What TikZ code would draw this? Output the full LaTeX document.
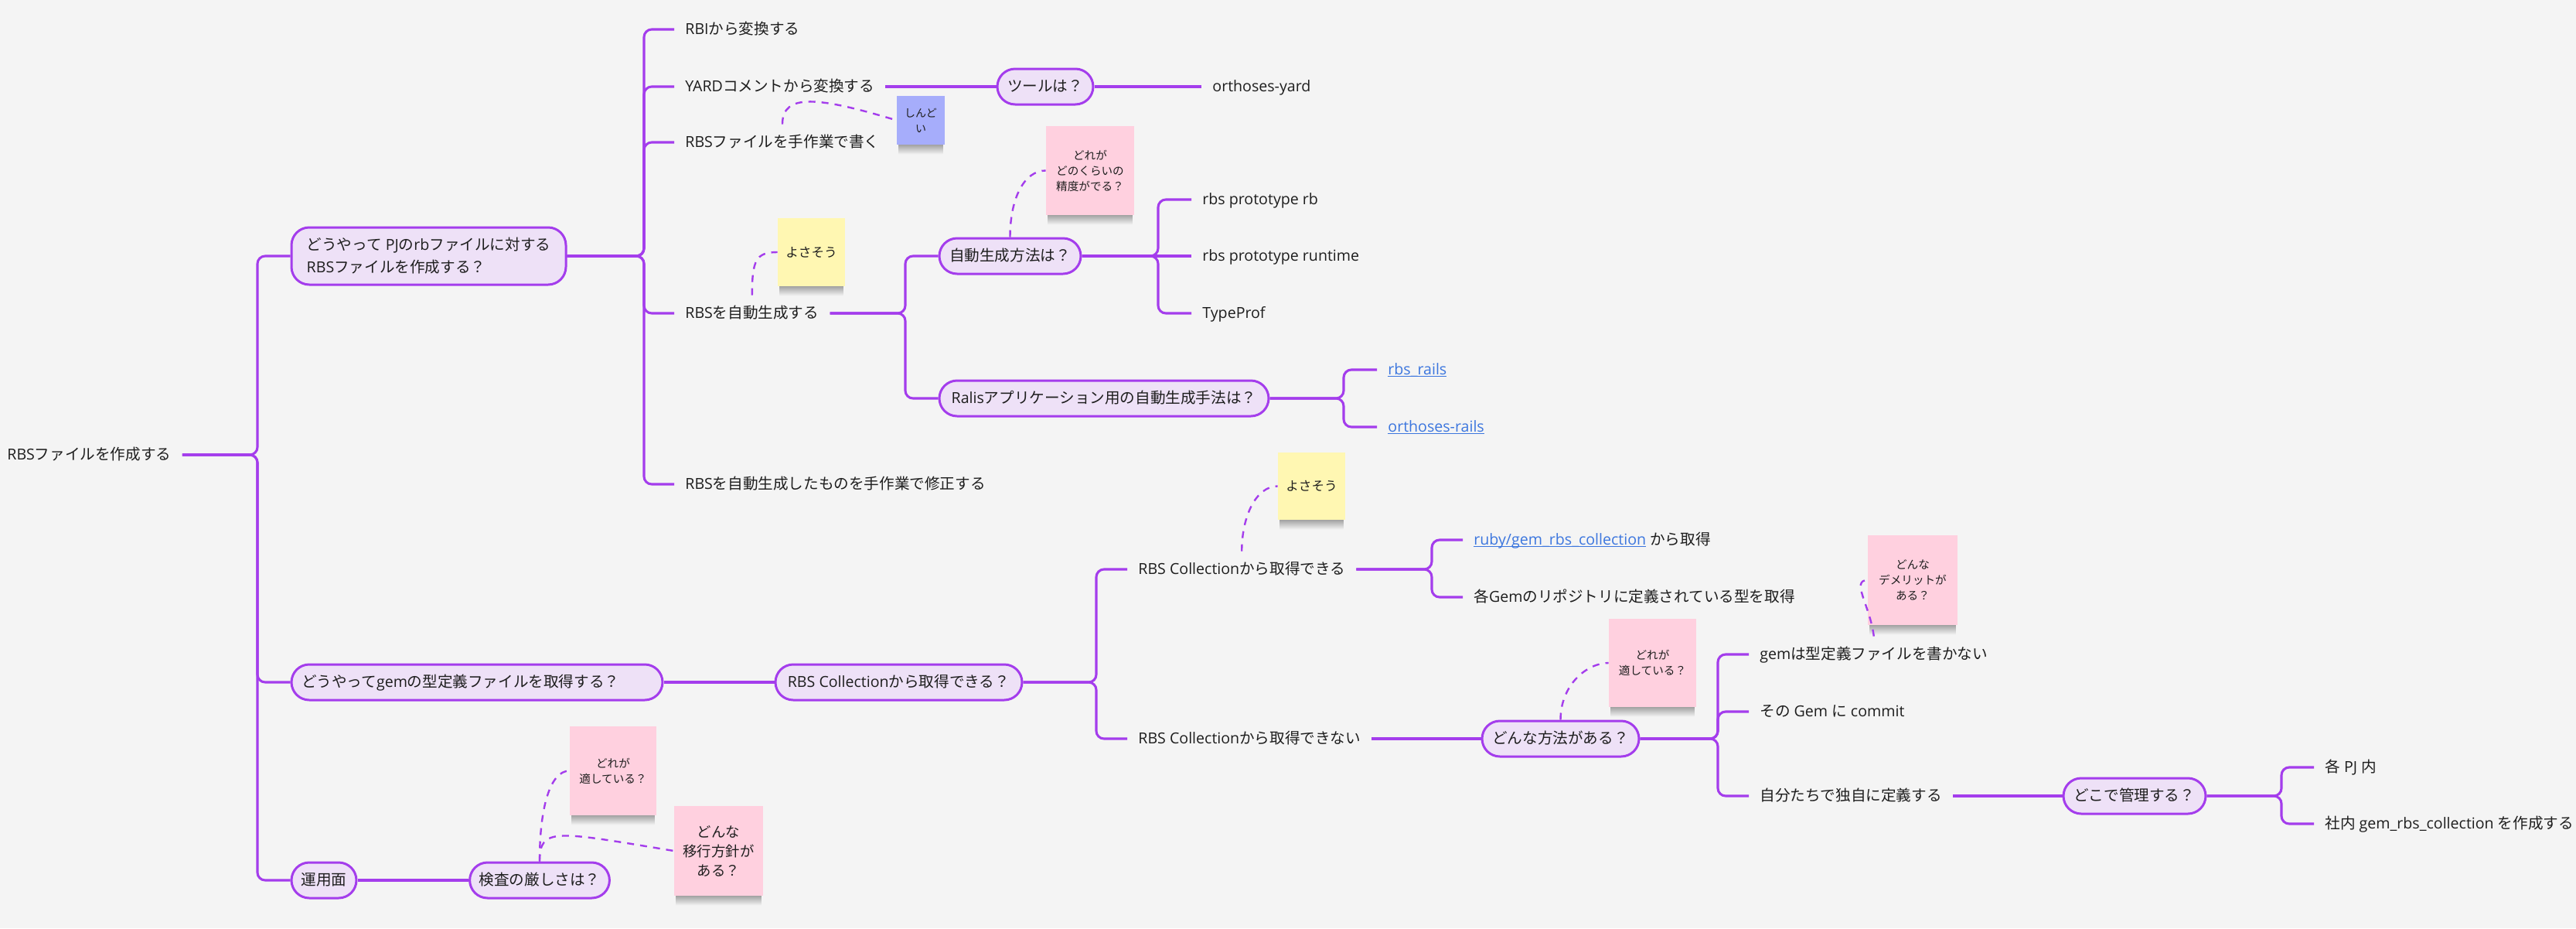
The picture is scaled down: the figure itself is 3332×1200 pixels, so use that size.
\documentclass[tikz,border=0pt]{standalone}
\usepackage{fontspec}
\setmainfont{Open Sans}
\newfontfamily\cjkf{Noto Sans CJK JP}
\newfontfamily\latf{Open Sans}
\XeTeXinterchartokenstate=1
\newXeTeXintercharclass\cjkcls
\newcount\mycjkcnt
\mycjkcnt="3000 \loop\XeTeXcharclass\mycjkcnt=\cjkcls\advance\mycjkcnt by 1 \ifnum\mycjkcnt<"3100 \repeat
\mycjkcnt="4E00 \loop\XeTeXcharclass\mycjkcnt=\cjkcls\advance\mycjkcnt by 1 \ifnum\mycjkcnt<"A000 \repeat
\mycjkcnt="FF00 \loop\XeTeXcharclass\mycjkcnt=\cjkcls\advance\mycjkcnt by 1 \ifnum\mycjkcnt<"FFF0 \repeat
\XeTeXinterchartoks 0 \cjkcls = {\cjkf}
\XeTeXinterchartoks 4095 \cjkcls = {\cjkf}
\XeTeXinterchartoks \cjkcls 0 = {\latf}
\XeTeXinterchartoks \cjkcls 4095 = {\latf}

\definecolor{bgc}{RGB}{244,244,244}
\definecolor{mmp}{RGB}{164,61,236}
\definecolor{mmfill}{RGB}{238,225,247}
\definecolor{txt}{RGB}{30,30,30}
\definecolor{lnkc}{RGB}{60,118,222}
\definecolor{stB}{RGB}{166,173,251}
\definecolor{stY}{RGB}{255,247,178}
\definecolor{stP}{RGB}{255,208,223}

\newcommand\mainsz{\fontsize{9.8pt}{14.5pt}\selectfont}
\newcommand\smsz{\fontsize{7.3pt}{10pt}\selectfont}
\newsavebox\lnkbox
\newcommand\lnk[1]{\sbox\lnkbox{\color{lnkc}#1}\rlap{\color{lnkc}\rule[-1.6pt]{\wd\lnkbox}{0.55pt}}\usebox\lnkbox}

\pgfdeclarelayer{back}
\pgfdeclarelayer{shad}
\pgfsetlayers{back,shad,main}

\begin{document}
\begin{tikzpicture}[x=0.5pt,y=-0.5pt,
  leaf/.style={anchor=west, inner xsep=7pt, inner ysep=0pt, minimum height=23pt,
    text=txt, font=\mainsz, text height=8pt, text depth=1.8pt},
  pillbase/.style={draw=mmp, fill=mmfill, line width=1.5pt, rounded corners=11.5pt,
    minimum height=23pt, inner xsep=6pt, inner ysep=0pt, text=txt, font=\mainsz},
  pill/.style={pillbase, text height=8pt, text depth=1.8pt},
  sticky/.style={inner sep=0pt, align=center, text=txt},
  conn/.style={draw=mmp, line width=1.55pt, rounded corners=5pt},
  dsh/.style={draw=mmp, line width=1.2pt, dash pattern=on 4.5pt off 4pt}]

\useasboundingbox (0,0) rectangle (3332,1200);
\begin{pgfonlayer}{back}
\fill[bgc] (0,0) rectangle (3332,1200);
\end{pgfonlayer}

% vertical brace positions
\coordinate (v0) at (333,0);
\coordinate (v1) at (833,0);
\coordinate (v2) at (1171,0);
\coordinate (v3) at (1498,0);
\coordinate (v4) at (1738,0);
\coordinate (v5) at (1418,0);
\coordinate (v6) at (1852,0);
\coordinate (v7) at (2222,0);
\coordinate (v8) at (2951,0);

% root and first level
\node[leaf] (root) at (-5,588) {RBSファイルを作成する};
\node[pillbase, minimum width=177.5pt, minimum height=37pt, align=left] (A) at (554.5,331) {どうやって PJのrbファイルに対する\\RBSファイルを作成する？};
\node[pillbase, text width=227pt, inner xsep=6.5pt, align=left, text height=8pt, text depth=1.8pt] (B) at (617,882) {どうやってgemの型定義ファイルを取得する？};
\node[pill, minimum width=42pt] (C) at (419,1138) {運用面};

% A subtree
\node[leaf] (a1) at (872,38) {RBIから変換する};
\node[leaf] (a2) at (872,112) {YARDコメントから変換する};
\node[leaf] (a3) at (872,184) {RBSファイルを手作業で書く};
\node[leaf] (a4) at (872,405) {RBSを自動生成する};
\node[leaf] (a5) at (872,626) {RBSを自動生成したものを手作業で修正する};

\node[pill, minimum width=62pt] (tool) at (1352,112) {ツールは？};
\node[leaf] (oy) at (1554,112) {orthoses-yard};

\node[pill, minimum width=91.5pt] (auto) at (1306.5,331) {自動生成方法は？};
\node[pill, minimum width=213pt] (ralis) at (1428,515) {Ralisアプリケーション用の自動生成手法は？};
\node[leaf] (p1) at (1541,258) {rbs prototype rb};
\node[leaf] (p2) at (1541,331) {rbs prototype runtime};
\node[leaf] (p3) at (1541,405) {TypeProf};
\node[leaf] (r1) at (1781,478) {\lnk{rbs\_rails}};
\node[leaf] (r2) at (1781,552) {\lnk{orthoses-rails}};

% B subtree
\node[pill, minimum width=159.5pt] (coll) at (1162.5,882) {RBS Collectionから取得できる？};
\node[leaf] (c1) at (1458,736) {RBS Collectionから取得できる};
\node[leaf] (c2) at (1458,955) {RBS Collectionから取得できない};
\node[leaf] (c11) at (1892,698) {\lnk{ruby/gem\_rbs\_collection} から取得};
\node[leaf] (c12) at (1892,772) {各Gemのリポジトリに定義されている型を取得};
\node[pill, minimum width=101.5pt] (how) at (2018.5,955) {どんな方法がある？};
\node[leaf] (h1) at (2262,846) {gemは型定義ファイルを書かない};
\node[leaf] (h2) at (2262,920) {その Gem に commit};
\node[leaf] (h3) at (2262,1029) {自分たちで独自に定義する};
\node[pill, minimum width=92pt] (where) at (2761,1029) {どこで管理する？};
\node[leaf] (w1) at (2993,992) {各 PJ 内};
\node[leaf] (w2) at (2993,1065) {社内 gem\_rbs\_collection を作成する};

% C subtree
\node[pill, minimum width=90pt] (kensa) at (698,1138) {検査の厳しさは？};

% sticky notes
\node[sticky, fill=stB, minimum width=31pt, minimum height=31.5pt, font=\fontsize{7pt}{10pt}\selectfont] (sB) at (1191,155.5) {しんど\\い};
\node[sticky, fill=stP, minimum width=57pt, minimum height=57.5pt, font=\smsz] (sP1) at (1410,220.5) {どれが\\どのくらいの\\精度がでる？};
\node[sticky, fill=stY, minimum width=43.5pt, minimum height=44pt, font=\fontsize{8.3pt}{10pt}\selectfont] (sY1) at (1049.5,326) {よさそう};
\node[sticky, fill=stY, minimum width=43.5pt, minimum height=43.5pt, font=\fontsize{8.3pt}{10pt}\selectfont] (sY2) at (1696.5,628.5) {よさそう};
\node[sticky, fill=stP, minimum width=56.5pt, minimum height=57pt, font=\smsz] (sP2) at (2137.5,857) {どれが\\適している？};
\node[sticky, fill=stP, minimum width=58pt, minimum height=58pt, font=\smsz] (sP3) at (2474,750) {どんな\\デメリットが\\ある？};
\node[sticky, fill=stP, minimum width=56pt, minimum height=57.5pt, font=\smsz] (sP4) at (793,996.5) {どれが\\適している？};
\node[sticky, fill=stP, minimum width=57.5pt, minimum height=58pt, font=\fontsize{9.2pt}{12.5pt}\selectfont] (sP5) at (929.5,1100) {どんな\\移行方針が\\ある？};

\begin{pgfonlayer}{shad}
\foreach \s in {sB,sP1,sY1,sY2,sP2,sP3,sP4,sP5}{
  \shade[top color=black!38, bottom color=bgc] ([xshift=1.5pt,yshift=0.5pt]\s.south west) rectangle ([xshift=-1.5pt,yshift=-6pt]\s.south east);
}
\end{pgfonlayer}

% connectors
\foreach \c in {A,B,C}{\draw[conn] (root.east) -- (root.east -| v0) -- (\c.west -| v0) -- (\c.west);}
\foreach \c in {a1,a2,a3,a4,a5}{\draw[conn] (A.east) -- (A.east -| v1) -- (\c.west -| v1) -- (\c.west);}
\draw[conn] (a2.east) -- (tool.west);
\draw[conn] (tool.east) -- (oy.west);
\foreach \c in {auto,ralis}{\draw[conn] (a4.east) -- (a4.east -| v2) -- (\c.west -| v2) -- (\c.west);}
\foreach \c in {p1,p3}{\draw[conn] (auto.east) -- (auto.east -| v3) -- (\c.west -| v3) -- (\c.west);}
\draw[conn] (auto.east) -- (p2.west);
\foreach \c in {r1,r2}{\draw[conn] (ralis.east) -- (ralis.east -| v4) -- (\c.west -| v4) -- (\c.west);}
\draw[conn] (B.east) -- (coll.west);
\foreach \c in {c1,c2}{\draw[conn] (coll.east) -- (coll.east -| v5) -- (\c.west -| v5) -- (\c.west);}
\foreach \c in {c11,c12}{\draw[conn] (c1.east) -- (c1.east -| v6) -- (\c.west -| v6) -- (\c.west);}
\draw[conn] (c2.east) -- (how.west);
\foreach \c in {h1,h2,h3}{\draw[conn] (how.east) -- (how.east -| v7) -- (\c.west -| v7) -- (\c.west);}
\draw[conn] (h3.east) -- (where.west);
\foreach \c in {w1,w2}{\draw[conn] (where.east) -- (where.east -| v8) -- (\c.west -| v8) -- (\c.west);}
\draw[conn] (C.east) -- (kensa.west);

% dashed sticky links
\draw[dsh] (a3.north) .. controls +(0,-41) and +(-100,-30) .. (sB.west);
\draw[dsh] (a4.north) .. controls +(0,-45) and +(-28,0) .. (sY1.west);
\draw[dsh] (auto.north) .. controls +(0,-50) and +(-28,0) .. (sP1.west);
\draw[dsh] (c1.north) .. controls +(0,-45) and +(-28,0) .. (sY2.west);
\draw[dsh] (how.north) .. controls +(0,-45) and +(-28,0) .. (sP2.west);
\draw[dsh] (h1.north) .. controls +(-5,-40) and +(-22,0) .. (sP3.west);
\draw[dsh] (kensa.north) .. controls +(0,-70) and +(-25,0) .. (sP4.west);
\draw[dsh] (kensa.north) .. controls +(0,-45) and +(-152,-25) .. (sP5.west);
\end{tikzpicture}
\end{document}
